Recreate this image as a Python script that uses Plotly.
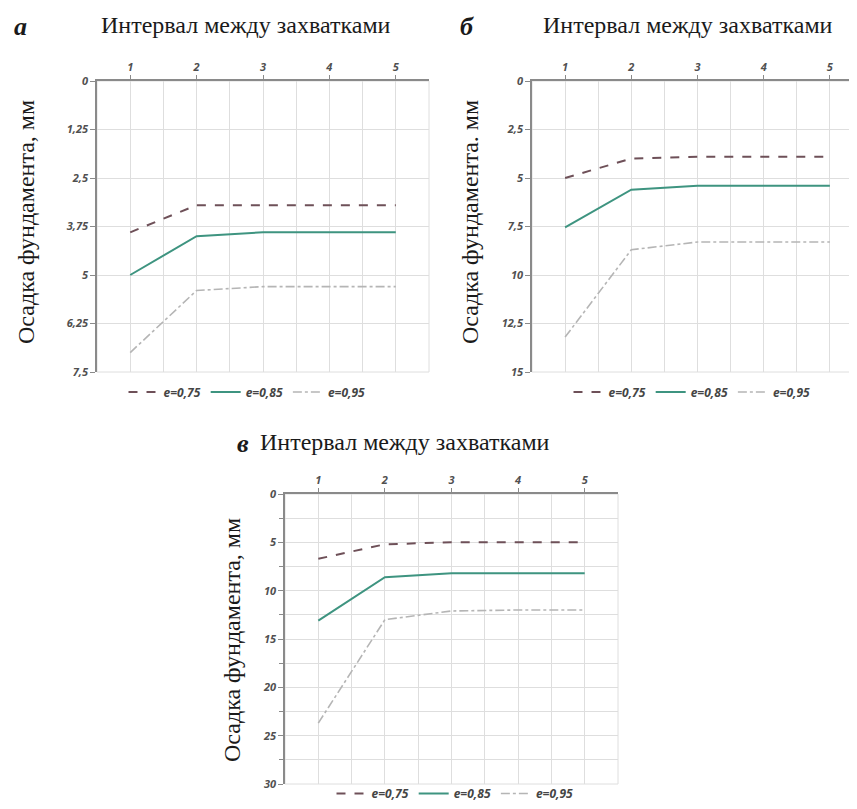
import plotly.graph_objects as go

# Page has an 8px body margin: figure is placed at (8, 8) on screen.
OFF = 8
W, H = 857 - OFF, 809 - OFF

# ---- data ----
intervals = [1, 2, 3, 4, 5]
x_ticktext = ["1", "2", "3", "4", "5"]
series_names = ["e=0,75", "e=0,85", "e=0,95"]

# panel а
a_e075 = [3.9, 3.2, 3.2, 3.2, 3.2]
a_e085 = [5.0, 4.0, 3.9, 3.9, 3.9]
a_e095 = [7.0, 5.4, 5.3, 5.3, 5.3]
a_yticks = [0, 1.25, 2.5, 3.75, 5, 6.25, 7.5]
a_yticktext = ["0", "1,25", "2,5", "3,75", "5", "6,25", "7,5"]

# panel б
b_e075 = [5.0, 4.0, 3.9, 3.9, 3.9]
b_e085 = [7.55, 5.6, 5.4, 5.4, 5.4]
b_e095 = [13.2, 8.7, 8.3, 8.3, 8.3]
b_yticks = [0, 2.5, 5, 7.5, 10, 12.5, 15]
b_yticktext = ["0", "2,5", "5", "7,5", "10", "12,5", "15"]

# panel в
c_e075 = [6.7, 5.2, 5.0, 5.0, 5.0]
c_e085 = [13.1, 8.6, 8.2, 8.2, 8.2]
c_e095 = [23.7, 13.0, 12.1, 12.0, 12.0]
c_yticks = [0, 5, 10, 15, 20, 25, 30]
c_yticktext = ["0", "5", "10", "15", "20", "25", "30"]

title_text = "Интервал между захватками"
ytitle_a = "Осадка фундамента, мм"
ytitle_b = "Осадка фундамента. мм"
ytitle_c = "Осадка фундамента, мм"

# ---- styles ----
styles = [
    dict(color="#6e5058", dash="dash", width=2),
    dict(color="#3e9480", dash="solid", width=2),
    dict(color="#b5b5b5", dash="dashdot", width=1.6),
]
sans = "Open Sans"
tickfont = dict(family=sans, size=11, color="#505050", style="italic", weight="bold")
serif = "Liberation Serif"
grid = "#dedede"
axcol = "#8a8a8a"

def px_x(p):
    return (p - OFF) / W

def px_y(p):
    return 1 - (p - OFF) / H

panels = [
    ([a_e075, a_e085, a_e095], a_yticks, a_yticktext, (97, 429), (81, 372), [0.5, 5.5], None),
    ([b_e075, b_e085, b_e095], b_yticks, b_yticktext, (532, 857), (81, 372), [0.5, 5.41], None),
    ([c_e075, c_e085, c_e095], c_yticks, c_yticktext, (285, 618), (494, 784), [0.5, 5.5], 2.5),
]
# legend anchors (center x, y, yanchor)
legend_pos = [(247, 392, "middle"), (692, 392, "middle"), (455, 808, "bottom")]

fig = go.Figure()
layout = dict(width=W, height=H, margin=dict(l=0, r=0, t=0, b=0, autoexpand=False),
              paper_bgcolor="white", plot_bgcolor="white", showlegend=True)
shapes = []

for i, (data, yt, ytt, xd, yd, xr, ymin) in enumerate(panels):
    sfx = "" if i == 0 else str(i + 1)
    xa, ya = "x" + sfx, "y" + sfx
    lg = "legend" + sfx
    for name, vals, st in zip(series_names, data, styles):
        fig.add_trace(go.Scatter(x=intervals, y=vals, mode="lines", name=name,
                                 line=st, xaxis=xa, yaxis=ya, legend=lg))
    layout["xaxis" + sfx] = dict(
        domain=[px_x(xd[0]), min(1.0, px_x(xd[1]))], range=xr, side="top", anchor=ya,
        tickvals=intervals, ticktext=x_ticktext, tickfont=tickfont,
        showgrid=True, gridcolor=grid, gridwidth=1,
        minor=dict(tickvals=[0.5, 1.5, 2.5, 3.5, 4.5, 5.5], showgrid=True,
                   gridcolor=grid, gridwidth=1, ticks=""),
        showline=True, linecolor=axcol, linewidth=1.5,
        ticks="outside", ticklen=4, tickcolor=axcol, zeroline=False,
        automargin=False, fixedrange=True)
    yax = dict(
        domain=[px_y(yd[1]), px_y(yd[0])], range=[yt[-1], yt[0]], anchor=xa,
        tickvals=yt, ticktext=ytt, tickfont=tickfont,
        showgrid=True, gridcolor=grid, gridwidth=1,
        showline=True, linecolor=axcol, linewidth=1.5,
        ticks="outside", ticklen=5, tickcolor=axcol, zeroline=False,
        automargin=False, fixedrange=True)
    if ymin:
        yax["minor"] = dict(dtick=ymin, tick0=0, showgrid=True, gridcolor=grid,
                            gridwidth=1, ticks="outside", ticklen=4, tickcolor=axcol)
    layout["yaxis" + sfx] = yax
    shapes.append(dict(type="rect", xref="paper", yref="paper",
                       x0=px_x(xd[0]), x1=min(1.0, px_x(xd[1])), y0=px_y(yd[1]), y1=px_y(yd[0]),
                       line=dict(color=grid, width=1), layer="below"))
    lx, ly, yanc = legend_pos[i]
    layout[lg] = dict(orientation="h", x=px_x(lx), y=px_y(ly), xanchor="center",
                      yanchor=yanc, font=dict(family=sans, size=12,
                      color="#454545", style="italic", weight="bold"),
                      bgcolor="rgba(0,0,0,0)", itemwidth=30, tracegroupgap=0,
                      itemclick=False)

annotations = []
def ann(text, x, y, size, angle=0, bold=False, italic=False, family=serif):
    annotations.append(dict(text=text, x=px_x(x), y=px_y(y), xref="paper", yref="paper",
                            showarrow=False, xanchor="center", yanchor="middle",
                            textangle=angle,
                            font=dict(family=family, size=size, color="#1a1a1a",
                                      weight="bold" if bold else "normal",
                                      style="italic" if italic else "normal")))

ann("а", 20, 26, 26, bold=True, italic=True)
ann(title_text, 246, 25, 24)
ann("б", 467, 26, 26, bold=True, italic=True)
ann(title_text, 688, 25, 24)
ann("в", 243, 443, 26, bold=True, italic=True)
ann(title_text, 405, 442, 24)
ann(ytitle_a, 26, 222, 24, angle=-90)
ann(ytitle_b, 470, 222, 24, angle=-90)
ann(ytitle_c, 232, 640, 24, angle=-90)

layout["annotations"] = annotations
layout["shapes"] = shapes
fig.update_layout(**layout)
fig.write_html("out.html")
